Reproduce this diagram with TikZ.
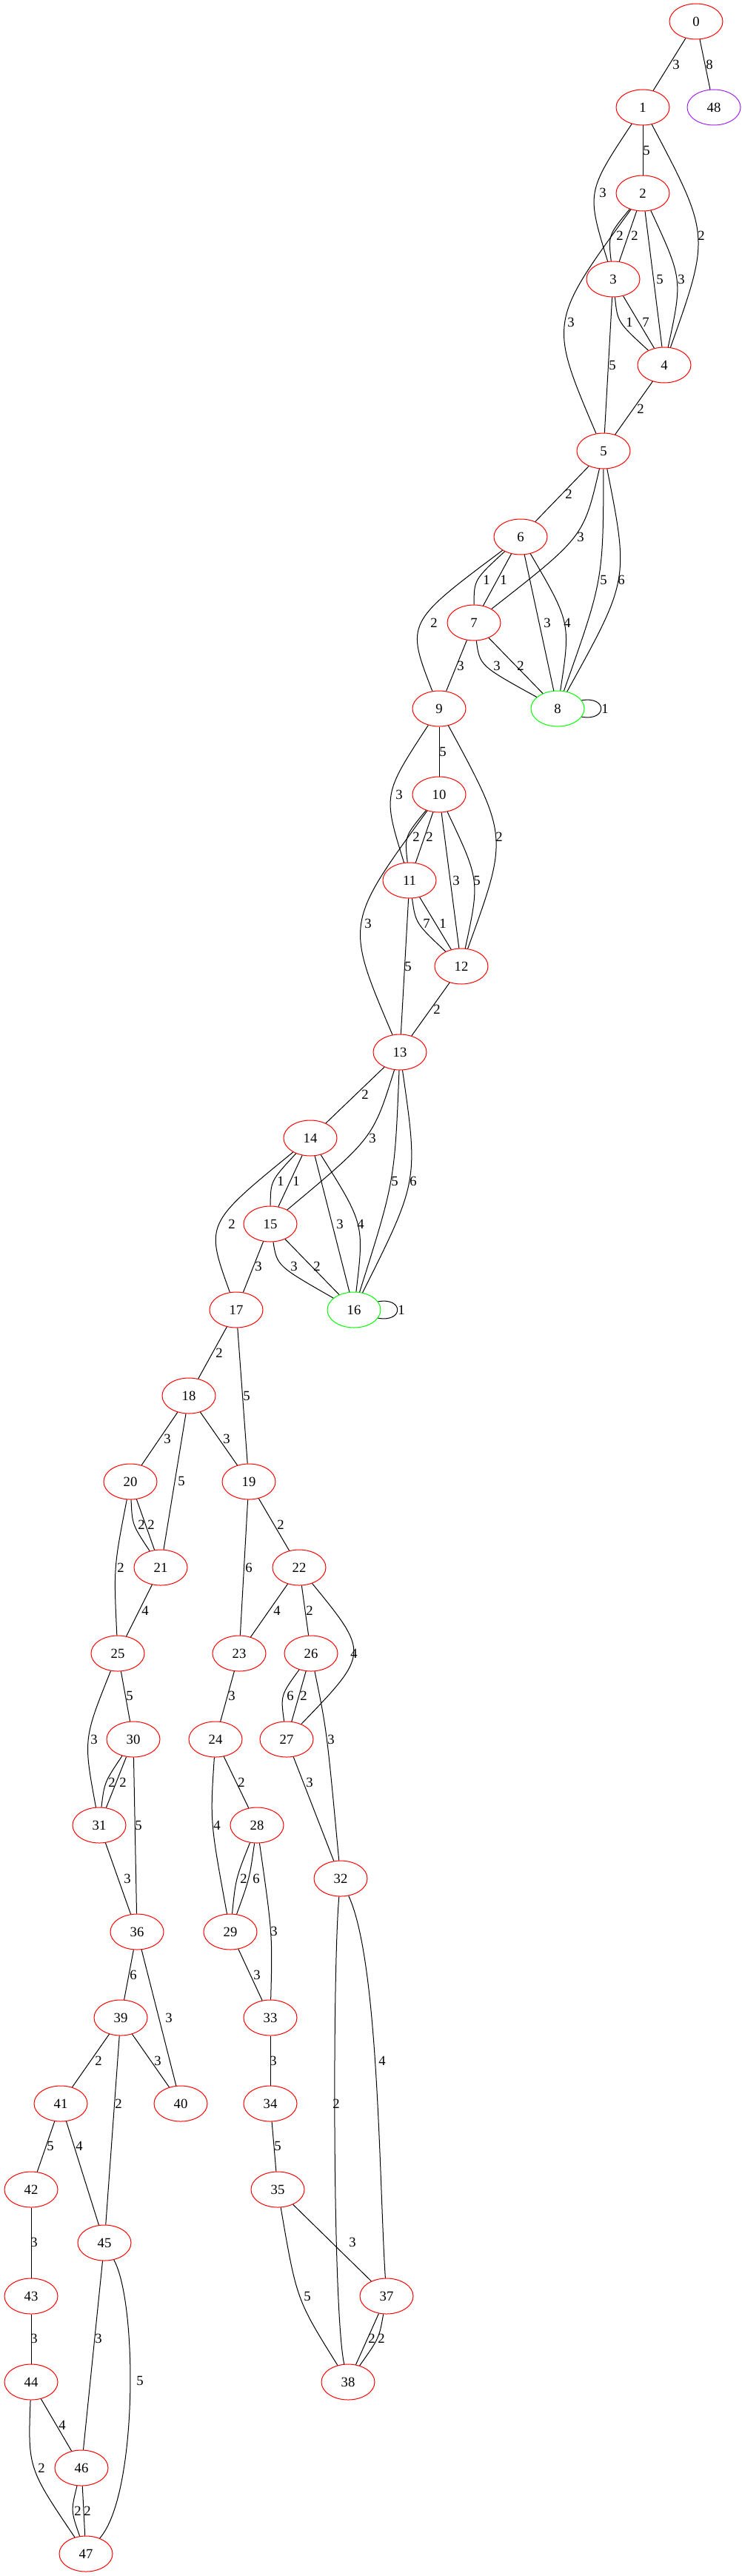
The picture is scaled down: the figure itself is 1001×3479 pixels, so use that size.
\documentclass[tikz,border=0pt]{standalone}
\usepackage{fontspec}
\setmainfont{Liberation Serif}
\usetikzlibrary{shapes.geometric,calc}
\definecolor{gvred}{RGB}{255,0,0}
\definecolor{gvgreen}{RGB}{0,255,0}
\definecolor{gvpurple}{RGB}{160,32,240}
\newcounter{lblc}
\tikzset{
  gn/.style={ellipse,draw=gvred,line width=0.75pt,minimum width=54pt,minimum height=36pt,inner sep=0pt,font=\fontsize{14}{16}\selectfont},
  edgeline/.style={draw=black,line width=0.75pt},
  elbl/.style={inner sep=0pt,font=\fontsize{14}{16}\selectfont}
}
\newcommand\sE[4]{\stepcounter{lblc}\draw[edgeline] (#1) -- (#2);\node[elbl] (lab\arabic{lblc}) at (#3) {#4};}
\newcommand\cE[5]{\stepcounter{lblc}\draw[edgeline] (#1) .. controls ($1.333333*(#3)-0.1666667*(#1)-0.1666667*(#2)$) and ($1.333333*(#3)-0.1666667*(#1)-0.1666667*(#2)$) .. (#2);\node[elbl] (lab\arabic{lblc}) at (#4) {#5};}
\newcommand\bE[6]{\stepcounter{lblc}\draw[edgeline] (#1) .. controls (#3) and (#4) .. (#2);\node[elbl] (lab\arabic{lblc}) at (#5) {#6};}
\newcommand\lE[3]{\stepcounter{lblc}\draw[edgeline] (#1.19) .. controls +(35,-6) and +(35,6) .. (#1.-19);\node[elbl] (lab\arabic{lblc}) at (#2) {#3};}
\begin{document}
\begin{tikzpicture}[x=0.75pt,y=-0.75pt]
\useasboundingbox (0,0) rectangle (1001,3479);
% nodes
\node[gn] (n0) at (940,29) {0};
\node[gn] (n1) at (868,145) {1};
\node[gn,draw=gvpurple] (n48) at (964,145) {48};
\node[gn] (n2) at (868,261) {2};
\node[gn] (n3) at (828,377) {3};
\node[gn] (n4) at (897,493) {4};
\node[gn] (n5) at (815,609) {5};
\node[gn] (n6) at (703,725) {6};
\node[gn] (n7) at (640,841) {7};
\node[gn] (n9) at (593,957) {9};
\node[gn,draw=gvgreen] (n8) at (753,957) {8};
\node[gn] (n10) at (593,1073) {10};
\node[gn] (n11) at (553,1189) {11};
\node[gn] (n12) at (623,1305) {12};
\node[gn] (n13) at (540,1421) {13};
\node[gn] (n14) at (419,1537) {14};
\node[gn] (n15) at (365,1653) {15};
\node[gn] (n17) at (319,1769) {17};
\node[gn,draw=gvgreen] (n16) at (478,1769) {16};
\node[gn] (n18) at (255,1885) {18};
\node[gn] (n20) at (176,2001) {20};
\node[gn] (n19) at (336,2001) {19};
\node[gn] (n21) at (217,2117) {21};
\node[gn] (n22) at (404,2117) {22};
\node[gn] (n25) at (159,2233) {25};
\node[gn] (n23) at (323,2233) {23};
\node[gn] (n26) at (420,2233) {26};
\node[gn] (n30) at (180,2349) {30};
\node[gn] (n24) at (291,2349) {24};
\node[gn] (n27) at (387,2349) {27};
\node[gn] (n31) at (134,2465) {31};
\node[gn] (n28) at (347,2465) {28};
\node[gn] (n32) at (460,2537) {32};
\node[gn] (n36) at (185,2609) {36};
\node[gn] (n29) at (311,2609) {29};
\node[gn] (n39) at (163,2725) {39};
\node[gn] (n33) at (365,2725) {33};
\node[gn] (n41) at (82,2841) {41};
\node[gn] (n40) at (244,2841) {40};
\node[gn] (n34) at (365,2841) {34};
\node[gn] (n42) at (42,2957) {42};
\node[gn] (n35) at (375,2957) {35};
\node[gn] (n45) at (141,3029) {45};
\node[gn] (n43) at (42,3101) {43};
\node[gn] (n37) at (522,3101) {37};
\node[gn] (n44) at (42,3217) {44};
\node[gn] (n38) at (470,3217) {38};
\node[gn] (n46) at (110,3333) {46};
\node[gn] (n47) at (116,3449) {47};
% edges
\sE{n0}{n1}{913,87}{3}
\sE{n0}{n48}{958,87}{8}
\sE{n1}{n2}{873,203}{5}
\cE{n1}{n3}{806,260}{814,260}{3}
\cE{n1}{n4}{940,318}{947,318}{2}
\cE{n2}{n3}{828,318}{837,318}{2}
\sE{n2}{n3}{857,318}{2}
\sE{n2}{n4}{891,377}{5}
\cE{n2}{n4}{912,377}{920,377}{3}
\cE{n2}{n5}{766,435}{771,435}{3}
\cE{n3}{n4}{841,435}{850,435}{1}
\sE{n3}{n4}{872,435}{7}
\sE{n3}{n5}{827,493}{5}
\sE{n4}{n5}{865,552}{2}
\sE{n5}{n6}{768,667}{2}
\cE{n5}{n7}{773,725}{784,725}{3}
\cE{n5}{n8}{807,783}{815,783}{5}
\cE{n5}{n8}{833,783}{839,783}{6}
\cE{n6}{n7}{648,783}{657,783}{1}
\sE{n6}{n7}{680,783}{1}
\sE{n6}{n8}{739,841}{3}
\cE{n6}{n8}{760,841}{766,841}{4}
\cE{n6}{n9}{573,841}{586,841}{2}
\sE{n7}{n9}{622,899}{3}
\cE{n7}{n8}{660,899}{671,899}{3}
\sE{n7}{n8}{703,899}{2}
\lE{n8}{817,957}{1}
\sE{n9}{n10}{598,1015}{5}
\cE{n9}{n11}{531,1073}{539,1073}{3}
\cE{n9}{n12}{667,1130}{674,1130}{2}
\cE{n10}{n11}{553,1130}{562,1130}{2}
\sE{n10}{n11}{580,1130}{2}
\sE{n10}{n12}{616,1189}{3}
\cE{n10}{n12}{638,1189}{644,1189}{5}
\cE{n10}{n13}{491,1247}{497,1247}{3}
\cE{n11}{n12}{568,1247}{576,1247}{7}
\sE{n11}{n12}{598,1247}{1}
\sE{n11}{n13}{551,1305}{5}
\sE{n12}{n13}{590,1363}{2}
\sE{n13}{n14}{493,1478}{2}
\cE{n13}{n15}{491,1537}{503,1537}{3}
\cE{n13}{n16}{527,1595}{533,1595}{5}
\cE{n13}{n16}{551,1595}{558,1595}{6}
\cE{n14}{n15}{372,1595}{379,1595}{1}
\sE{n14}{n15}{400,1595}{1}
\sE{n14}{n16}{459,1653}{3}
\cE{n14}{n16}{481,1653}{487,1653}{4}
\cE{n14}{n17}{300,1653}{313,1653}{2}
\sE{n15}{n17}{349,1710}{3}
\cE{n15}{n16}{386,1710}{397,1710}{3}
\sE{n15}{n16}{428,1710}{2}
\lE{n16}{542,1769}{1}
\sE{n17}{n18}{296,1827}{2}
\sE{n17}{n19}{333,1885}{5}
\sE{n18}{n20}{226,1943}{3}
\sE{n18}{n19}{306,1943}{3}
\sE{n18}{n21}{245,2000}{5}
\cE{n20}{n21}{183,2059}{191,2059}{2}
\sE{n20}{n21}{204,2059}{2}
\cE{n20}{n25}{157,2117}{163,2117}{2}
\sE{n19}{n23}{336,2117}{6}
\sE{n19}{n22}{379,2059}{2}
\sE{n21}{n25}{196,2175}{4}
\sE{n22}{n23}{374,2175}{4}
\sE{n22}{n26}{418,2175}{2}
\cE{n22}{n27}{473,2233}{478,2233}{4}
\sE{n25}{n30}{175,2290}{5}
\cE{n25}{n31}{121,2349}{127,2349}{3}
\sE{n23}{n24}{313,2290}{3}
\cE{n26}{n27}{385,2290}{392,2290}{6}
\sE{n26}{n27}{410,2290}{2}
\cE{n26}{n32}{441,2349}{447,2349}{3}
\sE{n27}{n32}{418,2407}{3}
\cE{n30}{n31}{145,2407}{151,2407}{2}
\sE{n30}{n31}{166,2407}{2}
\sE{n30}{n36}{187,2465}{5}
\sE{n24}{n28}{326,2407}{2}
\cE{n24}{n29}{288,2465}{293,2465}{4}
\sE{n31}{n36}{172,2537}{3}
\cE{n28}{n29}{321,2537}{329,2537}{2}
\cE{n28}{n29}{335,2537}{346,2537}{6}
\cE{n28}{n33}{365,2608}{370,2608}{3}
\bE{n32}{n38}{449,2660}{449,3120}{454,2841}{2}
\bE{n32}{n37}{512,2650}{512,2950}{516,2783}{4}
\sE{n36}{n39}{180,2667}{6}
\sE{n36}{n40}{228,2725}{3}
\sE{n29}{n33}{347,2667}{3}
\sE{n39}{n41}{133,2783}{2}
\sE{n39}{n45}{160,2841}{2}
\sE{n39}{n40}{213,2783}{3}
\sE{n33}{n34}{369,2783}{3}
\sE{n41}{n42}{68,2898}{5}
\sE{n41}{n45}{107,2898}{4}
\sE{n34}{n35}{375,2898}{5}
\sE{n42}{n43}{46,3028}{3}
\sE{n35}{n37}{476,3028}{3}
\cE{n35}{n38}{406,3101}{415,3101}{5}
\sE{n43}{n44}{46,3158}{3}
\sE{n45}{n46}{133,3158}{3}
\sE{n37}{n38}{502,3158}{2}
\cE{n37}{n38}{508,3158}{515,3158}{2}
\bE{n45}{n47}{186,3110}{186,3370}{189,3215}{5}
\sE{n44}{n46}{84,3275}{4}
\cE{n44}{n47}{48,3333}{56,3333}{2}
\cE{n46}{n47}{100,3391}{105,3391}{2}
\sE{n46}{n47}{118,3391}{2}
\end{tikzpicture}
\end{document}
